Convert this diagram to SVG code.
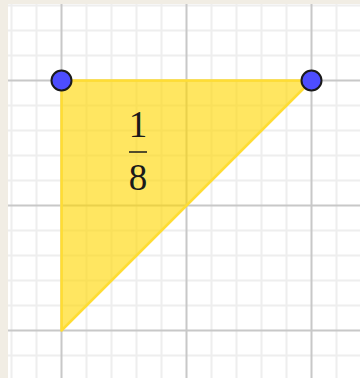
<svg xmlns="http://www.w3.org/2000/svg" width="360" height="378" viewBox="0 0 360 378">
<style>
.minor{stroke:#eeeeee;stroke-width:2}
.major{stroke:#c8c8c8;stroke-width:2}
.pt{fill:#4d4dff;stroke:#1a1a1a;stroke-width:2}
.num{font-family:"Liberation Serif","DejaVu Serif",serif;font-size:37px;fill:#1a1a1a;text-anchor:middle}
</style>
<rect x="0" y="0" width="360" height="378" fill="#f1ede4"/>
<rect x="8" y="4" width="352" height="374" fill="#ffffff"/>
<g id="grid">
<path class="minor" d="M11.5 4V378M36.5 4V378M86.5 4V378M111.5 4V378M136.5 4V378M161.5 4V378M211.5 4V378M236.5 4V378M261.5 4V378M286.5 4V378M336.5 4V378M8 5.5H360M8 30.5H360M8 55.5H360M8 105.5H360M8 130.5H360M8 155.5H360M8 180.5H360M8 230.5H360M8 255.5H360M8 280.5H360M8 305.5H360M8 355.5H360"/>
<path class="major" d="M61.5 4V378M186.5 4V378M311.5 4V378M8 80.5H360M8 205.5H360M8 330.5H360"/>
</g>
<g id="triangle">
<polygon points="61.5,80.5 311.5,80.5 61.5,330.5" fill="#ffd700" fill-opacity="0.62" stroke="#ffdd33" stroke-width="2.5" stroke-linejoin="round"/>
</g>
<g id="label">
<text class="num" x="138" y="137">1</text>
<line x1="129" y1="152" x2="147" y2="152" stroke="#1a1a1a" stroke-width="1.5"/>
<text class="num" x="138" y="190">8</text>
</g>
<g id="pointA"><circle class="pt" cx="61.5" cy="80.5" r="10"/></g>
<g id="pointB"><circle class="pt" cx="311.5" cy="80.5" r="10"/></g>
</svg>
